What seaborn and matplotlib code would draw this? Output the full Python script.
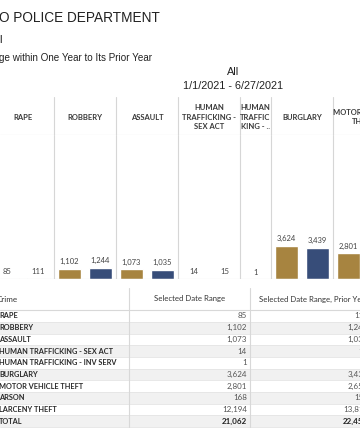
import numpy as np
import pandas as pd
import seaborn as sns
import matplotlib.pyplot as plt

crimes = ["RAPE", "ROBBERY", "ASSAULT", "HUMAN TRAFFICKING - SEX ACT",
          "HUMAN TRAFFICKING - INV SERV", "BURGLARY", "MOTOR VEHICLE THEFT",
          "ARSON", "LARCENY THEFT"]
chart_headers = ["RAPE", "ROBBERY", "ASSAULT", "HUMAN\nTRAFFICKING -\nSEX ACT",
                 "HUMAN\nTRAFFIC\nKING - ..", "BURGLARY", "MOTOR VEHICLE\nTHEFT",
                 "ARSON", "LARCENY THEFT"]
selected = [85, 1102, 1073, 14, 1, 3624, 2801, 168, 12194]
prior = [111, 1244, 1035, 15, np.nan, 3439, 2650, 152, 13812]
periods = ["Selected Date Range", "Selected Date Range, Prior Year"]

GOLD = "#B8892F"
BLUE = "#2C4984"
GRID = "#d6d6d6"
FONT = "Lato"

W, H = 360, 437


def box(x0, y0, x1, y1):
    return [x0 / W, 1 - y1 / H, (x1 - x0) / W, (y1 - y0) / H]


# one slot per drawn bar, like tableau's pane layout
rows = []
slot = 0
bounds = []
centers = []
for i, c in enumerate(crimes):
    first = slot
    for p, v in zip(periods, [selected[i], prior[i]]):
        if pd.isna(v):
            continue
        rows.append({"crime": c, "period": p, "value": v, "slot": slot})
        slot += 1
    centers.append((first + slot - 1) / 2)
    bounds.append(slot - 0.5)
df = pd.DataFrame(rows)

sns.set_style("white")
plt.rcParams["font.family"] = [FONT, "DejaVu Sans"]

fig = plt.figure(figsize=(W / 100, H / 100), dpi=100)

# slot width is 31px, first slot starts 8px left of the crop
xlim = (8 / 31 - 0.5, (W + 8) / 31 - 0.5)

ax = fig.add_axes(box(0, 135, W, 279))
sns.barplot(data=df, x="slot", y="value", hue="period", hue_order=periods,
            palette=[GOLD, BLUE], native_scale=True, dodge=False, width=0.77,
            legend=False, ax=ax)
ax.set_xlim(*xlim)
ax.set_ylim(0, 15800)
for cont in ax.containers:
    ax.bar_label(cont, labels=[f"{v:,.0f}" for v in cont.datavalues],
                 padding=2.5, fontsize=5.5, color="#444444", family=FONT)
for b in bounds:
    ax.axvline(b, color=GRID, lw=0.8)
ax.axhline(0, color=GRID, lw=0.8)
ax.set_axis_off()

hax = fig.add_axes(box(0, 97, W, 135))
hax.set_xlim(*xlim)
hax.set_ylim(0, 1)
for b in bounds:
    hax.axvline(b, color=GRID, lw=0.8)
hax.axhline(0, color=GRID, lw=0.8)
for cx, lab in zip(centers, chart_headers):
    hax.text(cx, 0.47, lab, ha="center", va="center", fontsize=5.5,
             fontweight="bold", color="#3a3a3a", linespacing=1.45)
hax.set_axis_off()

# titles (cropped on the left)
fig.text(-1 / W, 1 - 18 / H, "O POLICE DEPARTMENT", fontsize=9.8,
         family="Liberation Sans", color="#222222", va="center")
fig.text(-1 / W, 1 - 40 / H, "l", fontsize=8, family="Liberation Sans",
         color="#222222", va="center")
fig.text(-1 / W, 1 - 58 / H, "ge within One Year to Its Prior Year", fontsize=7.1,
         family="Liberation Sans", color="#222222", va="center")
fig.text(233 / W, 1 - 72 / H, "All", fontsize=7.8, family="Liberation Sans",
         color="#222222", ha="center", va="center")
fig.text(233 / W, 1 - 86 / H, "1/1/2021 - 6/27/2021", fontsize=7.8,
         family="Liberation Sans", color="#222222", ha="center", va="center")

# table
tax = fig.add_axes(box(0, 285, W, H))
tax.set_xlim(0, W)
tax.set_ylim(H, 285)
tax.set_axis_off()

table_names = crimes + ["TOTAL"]
sel_col = selected + [sum(selected)]
pri_col = prior + [np.nansum(prior)]
pitch = 11.7
y0 = 316
for i, (name, s, p) in enumerate(zip(table_names, sel_col, pri_col)):
    yc = y0 + i * pitch
    if i % 2 == 1:
        tax.axhspan(yc - pitch / 2, yc + pitch / 2, color="#f1f1f1", lw=0)
    tax.axhline(yc + pitch / 2, color="#e4e4e4", lw=0.6)
    bold = name == "TOTAL"
    tax.text(-1, yc, name, ha="left", va="center", fontsize=5.35,
             fontweight="bold", color="#2a2a2a")
    tax.text(247, yc, f"{s:,.0f}", ha="right", va="center", fontsize=5.8,
             fontweight="bold" if bold else "normal", color="#222222" if bold else "#555555")
    if not pd.isna(p):
        tax.text(368, yc, f"{p:,.0f}", ha="right", va="center", fontsize=5.8,
                 fontweight="bold" if bold else "normal",
                 color="#222222" if bold else "#555555")

tax.text(-3, 299, "Crime", ha="left", va="center", fontsize=5.8, color="#333333")
tax.text(190, 299, periods[0], ha="center", va="center", fontsize=5.6, color="#333333")
tax.text(259, 299, periods[1], ha="left", va="center", fontsize=5.6, color="#333333")
tax.axhline(310, color="#d8d8d8", lw=0.8)
for xv in [129, 250]:
    tax.plot([xv, xv], [288, y0 + len(table_names) * pitch - pitch / 2],
             color="#d8d8d8", lw=0.8)

fig.savefig("out.png", dpi=100)
